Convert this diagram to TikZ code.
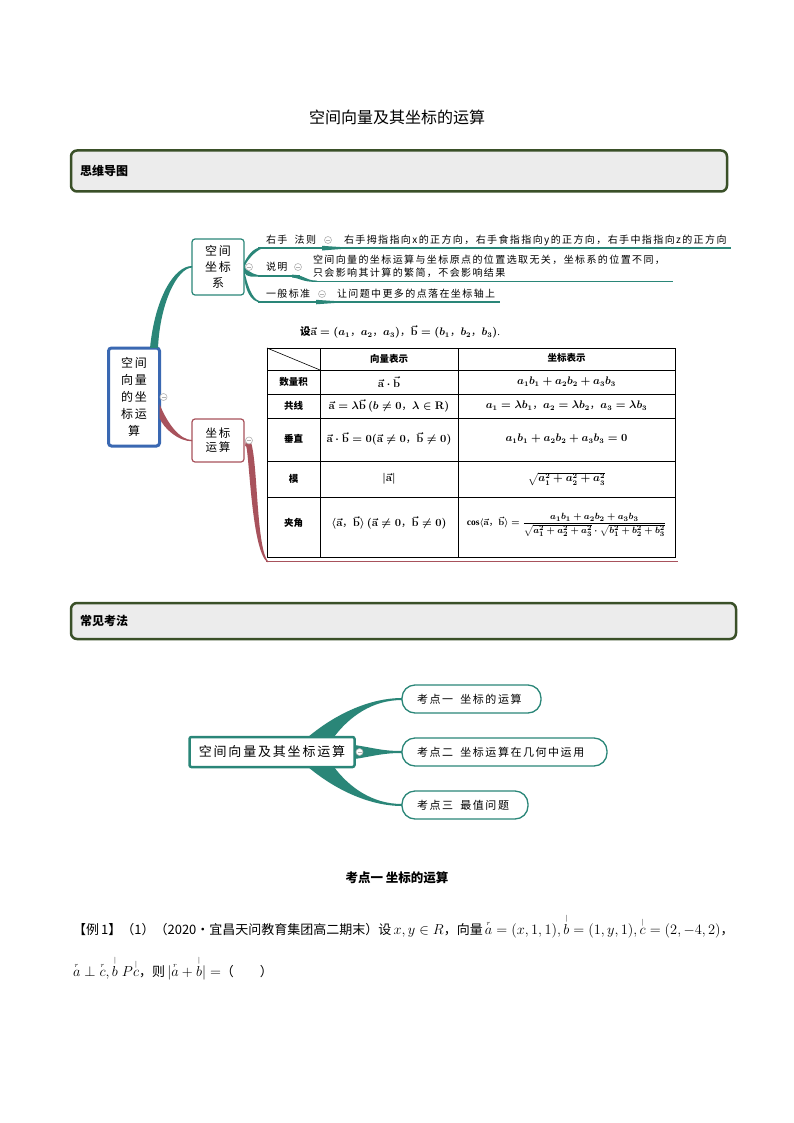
\documentclass[tikz,border=0pt]{standalone}
\usepackage{fontspec}
\usepackage{amsmath,amssymb}
\setmainfont{Liberation Serif}
\newfontfamily\cjk{Noto Sans CJK SC}
\newfontfamily\cjks[LetterSpace=14]{Noto Sans CJK SC}
\definecolor{tealA}{RGB}{42,134,120}
\definecolor{maroonA}{RGB}{168,82,92}
\definecolor{blueA}{RGB}{58,104,178}
\definecolor{hdrline}{RGB}{58,80,40}
\definecolor{hdrfill}{RGB}{236,236,236}
\newcommand{\vecA}{\vec{\mathbf a}}
\newcommand{\vecB}{\vec{\mathbf b}}
\newcommand{\xa}{\overset{\scriptscriptstyle r}{a}}
\newcommand{\xb}{\overset{\scriptscriptstyle |}{b}}
\newcommand{\xc}{\overset{\scriptscriptstyle |}{c}}
\newcommand{\xca}{\overset{\scriptscriptstyle r}{c}}
\newcommand{\zc}{{\cjk ，}}
\newcommand{\bm}[1]{{\fontsize{14.3}{17}\selectfont$#1$}}
\begin{document}
\begin{tikzpicture}[x=1pt,y=-1pt,
  every node/.style={inner sep=0pt, outer sep=0pt},
  hdr/.style={draw=hdrline, line width=2.5pt, fill=hdrfill, rounded corners=6pt, anchor=west,
    align=left, font=\cjk\bfseries\fontsize{12}{14}\selectfont},
  lab/.style={font=\cjks\fontsize{10}{12}\selectfont, anchor=west},
  collapse/.style={circle, draw=gray!60, fill=white, line width=0.6pt, minimum size=7pt,
    path picture={\draw[gray!60,line width=0.6pt] ([xshift=-2pt]path picture bounding box.center) -- ([xshift=2pt]path picture bounding box.center);}},
  pill/.style={draw=tealA, line width=1.3pt, rounded corners=13pt, minimum height=28pt, anchor=west, fill=white,
    align=left, font=\cjks\fontsize{11}{13}\selectfont},
  tcj/.style={font=\cjk\bfseries\fontsize{9.5}{11}\selectfont},
  tmath/.style={font=\fontsize{10.5}{12}\selectfont\boldmath},
  tline/.style={line width=0.8pt, black}
]
\useasboundingbox (0,0) rectangle (794,1123);
\fill[white] (0,0) rectangle (794,1123);

% title
\node[font=\cjk\fontsize{16}{18}\selectfont] (title) at (397,117) {空间向量及其坐标的运算};

% headers
\node[hdr, text width=656pt, minimum height=41pt] (h1) at (71,171) {\hspace*{9pt}思维导图};
\node[hdr, text width=665pt, minimum height=36pt] (h2) at (71,621) {\hspace*{9pt}常见考法};

% ---------- mind map 1 ----------
\node[draw=blueA, line width=3pt, rounded corners=3pt, fill=white, minimum width=51pt, minimum height=98pt,
  align=center, font=\cjks\fontsize{12}{17}\selectfont] (root) at (134,397) {空间\\向量\\的坐\\标运\\算};
\node[draw=tealA, line width=1.2pt, rounded corners=3pt, fill=white, minimum width=52pt, minimum height=56pt,
  align=center, font=\cjks\fontsize{12}{16}\selectfont] (n1) at (218,267) {空间\\坐标\\系};
\node[draw=maroonA, line width=1.2pt, rounded corners=3pt, fill=white, minimum width=52pt, minimum height=43pt,
  align=center, font=\cjks\fontsize{11.5}{14}\selectfont] (n2) at (218,440.5) {坐标\\运算};

% root -> n1 (teal)
\fill[tealA] ([xshift=16pt]root.north) .. controls +(5,-50) and +(-18,0) .. ([yshift=1pt]n1.west)
  -- ([yshift=-0.5pt]n1.west) .. controls +(-15,1) and +(2,-45) .. ([xshift=24pt]root.north) -- cycle;
% root -> n2 (maroon)
\fill[maroonA] ([yshift=-7pt]root.east) .. controls +(8,20) and +(-12,0) .. ([yshift=0.5pt]n2.west)
  -- ([yshift=-0.8pt]n2.west) .. controls +(-14,0) and +(4,10) .. ([yshift=-21pt]root.east) -- cycle;

% n1 fan
\fill[tealA] ([yshift=4pt]n1.east) .. controls +(6,-12) and +(-6,0) .. (262,247.4)
  -- (262,248.6) .. controls +(-5,1) and +(1,-8) .. ([yshift=-2pt]n1.east) -- cycle;
\fill[tealA] (n1.east) .. controls +(6,6) and +(-6,0) .. (262,275.4)
  -- (262,276.6) .. controls +(-8,0) and +(2,6) .. ([yshift=-5pt]n1.east) -- cycle;
\fill[tealA] ([yshift=-3pt]n1.east) .. controls +(5,22) and +(-8,0) .. (262,301.4)
  -- (262,302.6) .. controls +(-12,0) and +(1,14) .. ([yshift=-8pt]n1.east) -- cycle;

\coordinate (u1a) at (258,248); \coordinate (u1b) at (731,248);
\coordinate (u2a) at (258,276); \coordinate (u2b) at (300,276);
\coordinate (u2c) at (316,281.2); \coordinate (u2d) at (673,281.2);
\coordinate (u3a) at (258,302); \coordinate (u3b) at (500,302);
\draw[tealA, line width=1.1pt] (u1a) -- (u1b);
\draw[tealA, line width=1.1pt] (u2a) -- (u2b);
\draw[tealA, line width=1.1pt] (u2c) -- (u2d);
\draw[tealA, line width=1.1pt] (u3a) -- (u3b);
% small wedges
\fill[tealA] (322,245.8) .. controls (332,246.5) .. (346,247.4) -- (346,248.6) -- (322,250.5) -- cycle;
\fill[tealA] (292,274.6) .. controls (305,275) and (305,280.6) .. (317,280.6) -- (317,281.8) .. controls (302,282.3) and (300,277.8) .. (292,277.6) -- cycle;
\fill[tealA] (316,299.8) .. controls (326,300.5) .. (340,301.4) -- (340,302.6) -- (316,304.3) -- cycle;

% labels
\node[lab] (l1) at (266,240) {右手\ \ 法则};
\node[lab] (d1) at (344,240) {右手拇指指向x的正方向，右手食指指向y的正方向，右手中指指向z的正方向};
\node[lab] (l2) at (266,267) {说明};
\node[lab, align=left, font=\cjks\fontsize{10}{13}\selectfont] (d2) at (313,266.5) {空间向量的坐标运算与坐标原点的位置选取无关，坐标系的位置不同，\\只会影响其计算的繁简，不会影响结果};
\node[lab] (l3) at (266,294) {一般标准};
\node[lab] (d3) at (337,294) {让问题中更多的点落在坐标轴上};
\node[collapse] (m1) at (328,240) {};
\node[collapse] (m2) at (298,267) {};
\node[collapse] (m3) at (322,294) {};

% n2 -> table bottom
\coordinate (tend) at (678,561.8);
\fill[maroonA] ([xshift=2pt,yshift=2pt]n2.east) .. controls +(13,-10) and +(-14,-16) .. (268,561.2)
  -- (268,562.4) .. controls +(-18,-10) and +(4,-14) .. ([xshift=1pt,yshift=-6pt]n2.east) -- cycle;
\draw[maroonA, line width=1.2pt] (266,561.8) -- (tend);

\node[collapse] (mr) at ([xshift=4pt]root.east) {};
\node[collapse] (mn1) at ([xshift=5pt]n1.east) {};
\node[collapse] (mn2) at ([xshift=5pt]n2.east) {};

% table
\node[font=\fontsize{10.5}{12}\selectfont\boldmath, anchor=west] (setl) at (300,332)
  {{\cjk\bfseries 设}$\vecA=(a_1$\zc$a_2$\zc$a_3)$\zc$\vecB=(b_1$\zc$b_2$\zc$b_3)$.};
\draw[tline] (267,348) rectangle (675,557);
\draw[tline] (320,348) -- (320,557);
\draw[tline] (458,348) -- (458,557);
\foreach \yy in {370,394,418,461,497} \draw[tline] (267,\yy) -- (675,\yy);
\draw[line width=0.6pt] (267,348) -- (320,370);

\node[tcj] (th1) at (389,359) {向量表示};
\node[tcj] (th2) at (566.5,358) {坐标表示};
\node[tcj] (r1) at (293.5,382) {数量积};
\node[tcj] (r2l) at (293.5,406) {共线};
\node[tcj] (r3) at (293.5,439) {垂直};
\node[tcj] (r4) at (293.5,479) {模};
\node[tcj] (r5) at (293.5,523) {夹角};
\node[tmath] (c11) at (389,382) {$\vecA\cdot\vecB$};
\node[tmath] (c12) at (566.5,382) {$a_1b_1+a_2b_2+a_3b_3$};
\node[tmath] (c21) at (389,406) {$\vecA=\lambda\vecB\,(b\neq0$\zc$\lambda\in\mathbf{R})$};
\node[tmath] (c22) at (566.5,406) {$a_1=\lambda b_1$\zc$a_2=\lambda b_2$\zc$a_3=\lambda b_3$};
\node[tmath] (c31) at (389,439) {$\vecA\cdot\vecB=0(\vecA\neq0$\zc$\vecB\neq0)$};
\node[tmath] (c32) at (566.5,439) {$a_1b_1+a_2b_2+a_3b_3=0$};
\node[tmath] (c41) at (389,479) {$|\vecA|$};
\node[tmath] (c42) at (566.5,479) {$\sqrt{a_1^2+a_2^2+a_3^2}$};
\node[tmath] (c51) at (389,523) {$\langle\vecA$\zc$\vecB\rangle\,(\vecA\neq0$\zc$\vecB\neq0)$};
\node[font=\fontsize{9.5}{11}\selectfont\boldmath] (c52) at (566.5,525)
  {$\cos\langle\vecA$\zc$\vecB\rangle=\dfrac{a_1b_1+a_2b_2+a_3b_3}{\sqrt{a_1^2+a_2^2+a_3^2}\cdot\sqrt{b_1^2+b_2^2+b_3^2}}$};

% ---------- mind map 2 ----------
\node[draw=tealA, line width=2.5pt, rounded corners=2pt, fill=white, minimum width=165pt, minimum height=30pt,
  font=\cjks\fontsize{13}{15}\selectfont] (rt2) at (272,752) {空间向量及其坐标运算};
\node[pill, text width=139pt] (k1) at (402,699) {\hspace*{15pt}考点一\ \ 坐标的运算};
\node[pill, text width=205pt] (k2) at (402,752) {\hspace*{15pt}考点二\ \ 坐标运算在几何中运用};
\node[pill, text width=126pt] (k3) at (402,805) {\hspace*{15pt}考点三\ \ 最值问题};

\fill[tealA] ([xshift=36pt]rt2.north) .. controls +(30,-25) and +(-30,0) .. ([yshift=1pt]k1.west)
  -- ([yshift=-1pt]k1.west) .. controls +(-30,0) and +(15,-20) .. ([xshift=62pt]rt2.north) -- cycle;
\fill[tealA] ([xshift=36pt]rt2.south) .. controls +(30,25) and +(-30,0) .. ([yshift=-1pt]k3.west)
  -- ([yshift=1pt]k3.west) .. controls +(-30,0) and +(15,20) .. ([xshift=62pt]rt2.south) -- cycle;
\fill[tealA] ([yshift=7pt]rt2.east) .. controls +(20,3) and +(-20,0) .. ([yshift=1pt]k2.west)
  -- ([yshift=-1pt]k2.west) .. controls +(-20,0) and +(20,-3) .. ([yshift=-7pt]rt2.east) -- cycle;
\node[collapse] (mk) at ([xshift=5pt]rt2.east) {};

% ---------- bottom text ----------
\node[font=\cjk\bfseries\fontsize{12.5}{14}\selectfont] (sec) at (397,878) {考点一\ 坐标的运算};
\node[font=\cjk\fontsize{13}{15}\selectfont, anchor=west] (ex1) at (73,926)
  {【例\,1】（1）（2020·宜昌天问教育集团高二期末）设\,\bm{x,y\in R}，向量\,\bm{\xa=(x,1,1),\xb=(1,y,1),\xc=(2,-4,2)}，};
\node[font=\cjk\fontsize{13}{15}\selectfont, anchor=west] (ex2) at (73,968)
  {\bm{\xa\perp\xca,\xb\;P\xc}，则\,\bm{|\xa+\xb|=}（\qquad）};
\end{tikzpicture}
\end{document}
